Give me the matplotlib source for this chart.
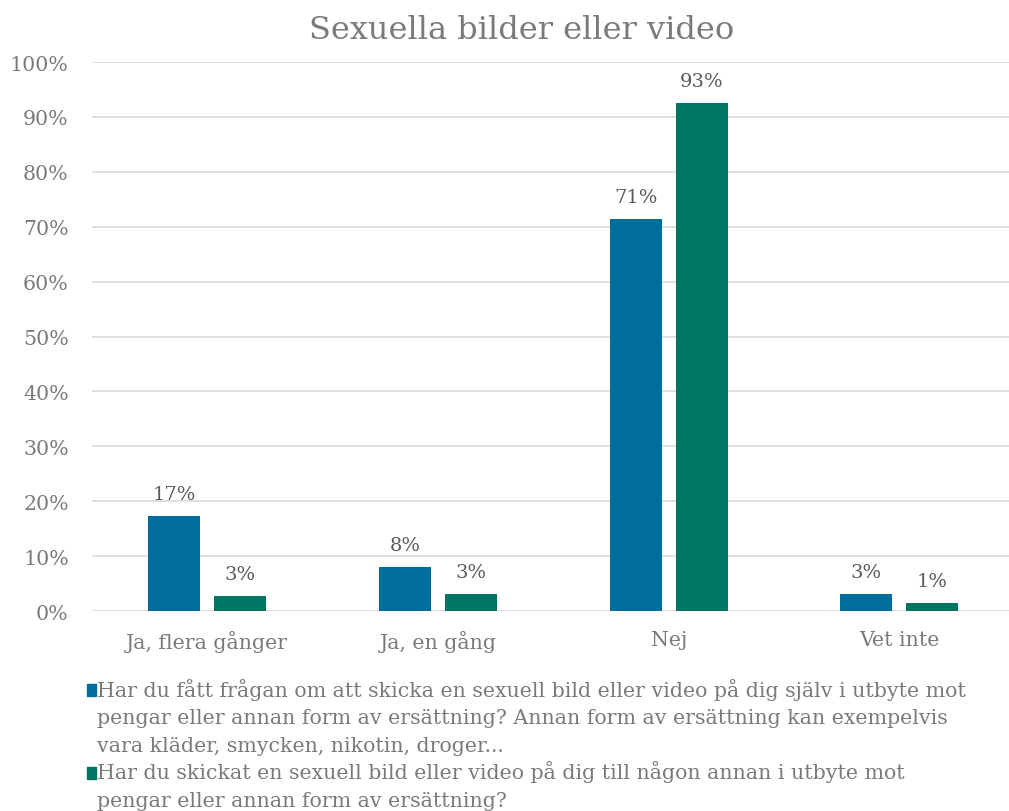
import numpy as np
import matplotlib
matplotlib.use('Agg')
import matplotlib.pyplot as plt
from matplotlib.patches import Rectangle

categories = ['Ja, flera gånger', 'Ja, en gång', 'Nej', 'Vet inte']
fraga = [17.3, 8.0, 71.4, 3.1]
skickat = [2.7, 3.1, 92.5, 1.4]
fraga_labels = ['17%', '8%', '71%', '3%']
skickat_labels = ['3%', '3%', '93%', '1%']
legend_texts = [
    ['Har du fått frågan om att skicka en sexuell bild eller video på dig själv i utbyte mot',
     'pengar eller annan form av ersättning? Annan form av ersättning kan exempelvis',
     'vara kläder, smycken, nikotin, droger...'],
    ['Har du skickat en sexuell bild eller video på dig till någon annan i utbyte mot',
     'pengar eller annan form av ersättning?'],
]

blue = '#006E9B'
green = '#007662'
grey = '#7A7A7A'
plt.rcParams['font.family'] = ['DejaVu Serif']

fig = plt.figure(figsize=(10.09, 8.12), dpi=100)
# plot area runs a little past the right edge, as in the original
ax = fig.add_axes([0.0908, 0.2463, 0.915, 0.6761])

x = np.arange(len(categories))
w = 0.225
off = 0.143
ax.bar(x - off, fraga, w, color=blue, zorder=3)
ax.bar(x + off, skickat, w, color=green, zorder=3)

for xi, v, t in zip(x - off, fraga, fraga_labels):
    ax.text(xi, v + 2.4, t, ha='center', va='bottom', fontsize=14, color='#595959')
for xi, v, t in zip(x + off, skickat, skickat_labels):
    ax.text(xi, v + 2.4, t, ha='center', va='bottom', fontsize=14, color='#595959')

ax.set_xlim(-0.5, 3.5)
ax.set_ylim(0, 100)
ax.set_yticks(np.arange(0, 101, 10))
ax.set_yticklabels([f'{v}%' for v in range(0, 101, 10)])
ax.set_xticks(x)
ax.set_xticklabels(categories)
ax.tick_params(axis='both', length=0, labelsize=14.8, colors=grey)
ax.tick_params(axis='y', pad=16.5)
ax.tick_params(axis='x', pad=14)
ax.grid(axis='y', color='#D9D9D9', linewidth=1.2, zorder=0)
for s in ax.spines.values():
    s.set_visible(False)

fig.text(0.517, 0.963, 'Sexuella bilder eller video', ha='center', va='center',
         fontsize=23, color=grey)

# legend drawn by hand so the swatch sits on the first line
line_h = 27.5 / 812
y0 = 1 - 697 / 812
row = 0
for lines, c in zip(legend_texts, [blue, green]):
    yy = y0 - row * line_h
    fig.patches.append(Rectangle((87 / 1009, yy), 9 / 1009, 12 / 812,
                                 transform=fig.transFigure, color=c))
    for ln in lines:
        fig.text(97 / 1009, y0 - row * line_h, ln, ha='left', va='baseline',
                 fontsize=14.8, color=grey)
        row += 1

fig.savefig('out.png', dpi=100)
